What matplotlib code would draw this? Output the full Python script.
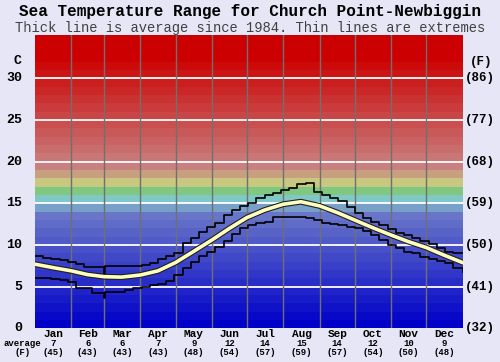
import matplotlib
matplotlib.use("Agg")
import matplotlib.pyplot as plt
import matplotlib.patheffects as pe
import numpy as np

# dias del año y temperaturas
meses = ["Jan", "Feb", "Mar", "Apr", "May", "Jun", "Jul", "Aug", "Sep", "Oct", "Nov", "Dec"]
inicio_mes = [0, 31, 59, 90, 120, 151, 181, 212, 243, 273, 304, 334, 365]
media_c = ["7", "6", "6", "7", "9", "12", "14", "15", "14", "12", "10", "9"]
media_f = ["(45)", "(43)", "(43)", "(43)", "(48)", "(54)", "(57)", "(59)", "(57)", "(54)", "(50)", "(48)"]

dias_media = [0, 15, 31, 45, 59, 74, 90, 105, 120, 135, 151, 166, 181, 196,
              212, 227, 243, 258, 273, 288, 304, 319, 334, 349, 365]
temp_media = [7.7, 7.3, 6.9, 6.45, 6.2, 6.15, 6.4, 6.9, 7.9, 9.2, 10.6, 12.0, 13.3, 14.2,
              14.9, 15.2, 14.7, 13.9, 13.0, 12.1, 11.2, 10.4, 9.7, 8.8, 7.9]

dias_ext = [0, 7, 14, 21, 28, 35, 42, 49, 56, 59, 60, 70, 77, 84, 91, 98, 105, 112,
            119, 126, 133, 140, 147, 154, 161, 168, 175, 182, 189, 196, 203, 210,
            217, 224, 231, 238, 245, 252, 259, 266, 273, 280, 287, 294, 301, 308,
            315, 322, 329, 336, 343, 350, 357, 365]
temp_max = [8.7, 8.5, 8.3, 8.2, 8.0, 7.7, 7.4, 7.4, 7.4, 6.2, 7.5, 7.5, 7.5, 7.5, 7.6,
            7.8, 8.3, 8.7, 9.1, 10.2, 10.9, 11.6, 12.2, 12.7, 13.6, 14.2, 14.7, 15.1,
            15.7, 16.0, 16.3, 16.6, 16.9, 17.3, 17.4, 16.4, 16.0, 15.6, 15.3, 14.6,
            13.9, 13.3, 12.8, 12.4, 11.9, 11.5, 11.2, 10.9, 10.5, 10.1, 9.6, 9.2,
            9.1, 9.0]
temp_min = [6.1, 6.0, 5.9, 5.8, 5.6, 4.9, 4.9, 4.2, 4.2, 3.6, 4.4, 4.4, 4.6, 4.8, 5.0,
            5.2, 5.3, 5.7, 6.4, 7.2, 8.0, 8.7, 9.2, 9.8, 10.5, 11.3, 12.0, 12.4,
            12.6, 12.8, 13.4, 13.4, 13.4, 13.4, 13.2, 13.0, 12.7, 12.5, 12.4, 12.2,
            12.0, 11.7, 11.2, 10.6, 10.0, 9.6, 9.2, 9.0, 8.6, 8.3, 8.1, 7.8,
            7.2, 6.8]

etiquetas_c = [0, 5, 10, 15, 20, 25, 30]
etiquetas_f = ["(32)", "(41)", "(50)", "(59)", "(68)", "(77)", "(86)"]

fondo = "#E6E6F6"
fuente = "Liberation Mono"


def color_banda(k):
    if k <= 13:
        rgb = (8 * k, 9 * k, 200)
    elif k == 14:
        rgb = (120, 160, 200)
    elif k == 15:
        rgb = (128, 200, 200)
    elif k == 16:
        rgb = (128, 200, 128)
    elif k == 17:
        rgb = (200, 200, 128)
    elif k == 18:
        rgb = (200, 160, 128)
    else:
        t = min((k - 19) / 13.0, 1.0)
        rgb = (200 + 4 * t, 128 * (1 - t), 128 * (1 - t))
    return tuple(c / 255 for c in rgb)


fig = plt.figure(figsize=(5, 3.62), dpi=100, facecolor=fondo)
ax = fig.add_axes([0.07, 0.093, 0.855, 0.81])
ax.set_xlim(0, 365)
ax.set_ylim(0, 35.2)
ax.axis("off")

for k in range(36):
    ax.axhspan(k, k + 1, color=color_banda(k), lw=0, zorder=0)

for t in etiquetas_c[1:]:
    ax.axhline(t, color="white", lw=1.3, zorder=1)
for d in inicio_mes[1:-1]:
    ax.axvline(d, color="#707070", lw=1, zorder=1)

ax.step(dias_ext, temp_max, where="post", color="black", lw=1.2, zorder=3)
ax.step(dias_ext, temp_min, where="post", color="black", lw=1.2, zorder=3)
ax.plot(dias_media, temp_media, color="#FFFFC0", lw=2.6, zorder=4,
        path_effects=[pe.Stroke(linewidth=4.2, foreground="#202020"), pe.Normal()])

fig.text(0.5, 0.967, "Sea Temperature Range for Church Point-Newbiggin",
         ha="center", va="center", fontsize=11.5, fontweight="bold", family=fuente)
fig.text(0.5, 0.923, "Thick line is average since 1984. Thin lines are extremes",
         ha="center", va="center", fontsize=9.9, color="#404040", family=fuente)

# etiquetas de los ejes
for t, f in zip(etiquetas_c, etiquetas_f):
    ax.text(-11, t, str(t), ha="right", va="center", fontsize=9.5,
            fontweight="bold", family=fuente, clip_on=False)
    ax.text(367, t, f, ha="left", va="center", fontsize=9,
            fontweight="bold", family=fuente, clip_on=False)
fig.text(0.044, 0.832, "C", ha="right", va="center", fontsize=9.5,
         fontweight="bold", family=fuente)
fig.text(0.984, 0.829, "(F)", ha="right", va="center", fontsize=9,
         fontweight="bold", family=fuente)

for i, m in enumerate(meses):
    xc = (inicio_mes[i] + inicio_mes[i + 1]) / 2
    ax.text(xc, -0.7, m, ha="center", va="center", fontsize=8,
            fontweight="bold", family=fuente, clip_on=False)
    ax.text(xc, -1.8, media_c[i], ha="center", va="center", fontsize=6.5,
            fontweight="bold", family=fuente, clip_on=False)
    ax.text(xc, -2.85, media_f[i], ha="center", va="center", fontsize=6.5,
            fontweight="bold", family=fuente, clip_on=False)
fig.text(0.045, 0.052, "average", ha="center", va="center", fontsize=6.5,
         fontweight="bold", family=fuente)
fig.text(0.045, 0.027, "(F)", ha="center", va="center", fontsize=6.5,
         fontweight="bold", family=fuente)

fig.savefig("out.png", dpi=100, facecolor=fondo)
